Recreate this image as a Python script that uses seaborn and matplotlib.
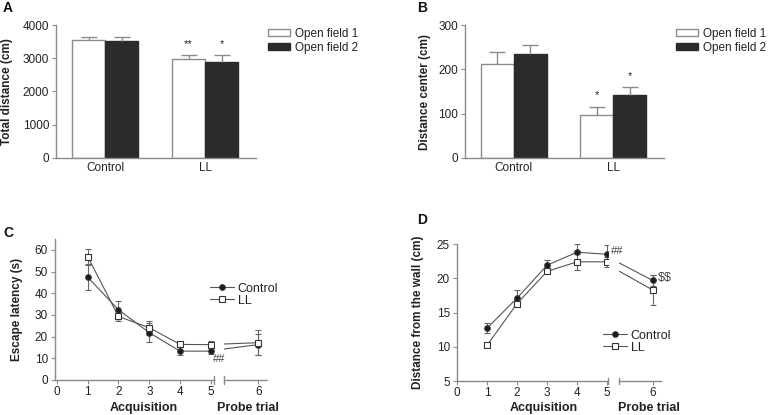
import numpy as np
import pandas as pd
import seaborn as sns
import matplotlib.pyplot as plt
from matplotlib.patches import Patch
from matplotlib.lines import Line2D

# --- data ---
groups = ['Control', 'LL']
sessions = ['Open field 1', 'Open field 2']

total_of1 = [3540, 2970]
total_of2 = [3525, 2890]
total_of1_sem = [90, 120]
total_of2_sem = [100, 200]
total_marks = [['', '**'], ['', '*']]   # [session][group]

center_of1 = [213, 98]
center_of2 = [235, 142]
center_of1_sem = [27, 18]
center_of2_sem = [20, 18]
center_marks = [['', '*'], ['', '*']]

days = [1, 2, 3, 4, 5, 6]
latency_control = [47.4, 32.4, 21.8, 13.3, 13.3, 16.3]
latency_control_sem = [5.7, 4.2, 4.3, 1.8, 1.3, 5.0]
latency_ll = [56.9, 29.3, 24.1, 16.4, 16.3, 17.2]
latency_ll_sem = [3.5, 2.3, 3.3, 1.1, 1.5, 5.8]

wall_control = [12.7, 17.1, 21.9, 23.8, 23.5, 19.7]
wall_control_sem = [0.7, 1.2, 0.7, 1.2, 1.3, 0.8]
wall_ll = [10.2, 16.3, 21.0, 22.4, 22.4, 18.3]
wall_ll_sem = [0.2, 0.3, 0.3, 1.2, 0.7, 2.2]

# --- style ---
sns.set_style('ticks')
plt.rcParams['font.family'] = ['Liberation Sans', 'DejaVu Sans']
SPINE = '#8a8a8a'
TXT = '#222222'
DARK = '#2b2b2b'
LINE = '#555555'
plt.rcParams.update({
    'axes.edgecolor': SPINE, 'axes.linewidth': 1.0,
    'xtick.color': SPINE, 'ytick.color': SPINE,
    'xtick.labelcolor': TXT, 'ytick.labelcolor': TXT,
    'xtick.labelsize': 8.5, 'ytick.labelsize': 8.5,
    'xtick.major.size': 3, 'ytick.major.size': 3,
    'xtick.major.pad': 1.5, 'ytick.major.pad': 2,
})

W, H = 769, 415
fig = plt.figure(figsize=(W / 100, H / 100), dpi=100)


def px_axes(left, top, right, bottom):
    return fig.add_axes([left / W, 1 - bottom / H, (right - left) / W, (bottom - top) / H])


def bar_panel(ax, of1, of2, sem1, sem2, marks, ylabel, yticks, label_x):
    df = pd.DataFrame({'group': groups * 2,
                       'session': [sessions[0]] * 2 + [sessions[1]] * 2,
                       'value': of1 + of2})
    sns.barplot(data=df, x='group', y='value', hue='session', order=groups,
                hue_order=sessions, palette=['white', DARK], saturation=1,
                width=0.66, errorbar=None, legend=False, ax=ax)
    for cont, sems, ec, mk in zip(ax.containers, [sem1, sem2], ['#8c8c8c', DARK], marks):
        xs = [p.get_x() + p.get_width() / 2 for p in cont]
        ys = [p.get_height() for p in cont]
        for p in cont:
            p.set_edgecolor(ec)
            p.set_linewidth(1)
        _, caps, _ = ax.errorbar(xs, ys, yerr=[np.zeros(len(sems)), sems], fmt='none',
                                 ecolor='#8c8c8c', elinewidth=1, capsize=6, capthick=1)
        for c in caps:
            if np.allclose(c.get_ydata(), ys):
                c.set_visible(False)
        for x, y, s, m in zip(xs, ys, sems, mk):
            if m:
                ax.annotate(m, (x, y + s), xytext=(0, 8), textcoords='offset points',
                            ha='center', va='center', fontsize=8, color=TXT)
    ax.set_xlim(-0.49, 1.51)
    ax.set_ylim(yticks[0], yticks[-1])
    ax.set_yticks(yticks)
    ax.set_xlabel('')
    ax.set_ylabel(ylabel, fontsize=8.5, fontweight='bold', color=TXT)
    ax.yaxis.set_label_coords(label_x, 0.5)
    ax.tick_params(axis='x', length=0, pad=3)
    sns.despine(ax=ax)
    handles = [Patch(facecolor='white', edgecolor='#8c8c8c', lw=1),
               Patch(facecolor=DARK, edgecolor=DARK, lw=1)]
    ax.legend(handles, sessions, loc='upper left', bbox_to_anchor=(1.06, 0.98),
              frameon=False, fontsize=8.5, borderaxespad=0, borderpad=0,
              handlelength=1.9, handleheight=0.55, handletextpad=0.4,
              labelspacing=0.2, labelcolor=TXT)


def line_panel(ax1, ax2, ctrl, ctrl_sem, ll, ll_sem, ylim, yticks, xlim1,
               ylabel, label_x, leg_anchor, acq_x, probe_x):
    df = pd.DataFrame({'day': days * 2, 'value': ctrl + ll, 'err': ctrl_sem + ll_sem,
                       'group': ['Control'] * len(days) + ['LL'] * len(days)})
    styles = {'Control': dict(marker='o', markersize=4, markerfacecolor='#1a1a1a'),
              'LL': dict(marker='s', markersize=5, markerfacecolor='white')}
    for ax, sel in ((ax1, df['day'] <= 5), (ax2, df['day'] >= 4)):
        for grp, st in styles.items():
            sub = df[sel & (df['group'] == grp)]
            ax.errorbar(sub['day'], sub['value'], yerr=sub['err'], fmt='none',
                        ecolor='#666666', elinewidth=0.8, capsize=2, capthick=0.8,
                        zorder=1)
            sns.lineplot(data=sub, x='day', y='value', ax=ax, color=LINE, lw=0.8,
                         markeredgecolor='#333333', markeredgewidth=0.8,
                         errorbar=None, zorder=3, **st)
    for ax in (ax1, ax2):
        ax.set_ylim(*ylim)
        ax.set_xlabel('')
        ax.set_ylabel('')
    ax2.patch.set_visible(False)
    ax1.set_xlim(*xlim1)
    ax1.set_xticks([0, 1, 2, 3, 4, 5])
    ax1.set_yticks(yticks)
    ax2.set_xlim(5.33, 6.17)
    ax2.set_xticks([6])
    ax2.set_yticks([])
    sns.despine(ax=ax1)
    sns.despine(ax=ax2, left=True)
    for ax, xb in ((ax1, 1), (ax2, 0)):
        ax.plot([xb, xb], [-0.025, 0.025], transform=ax.transAxes, color=SPINE,
                lw=1, clip_on=False)
    ax1.set_ylabel(ylabel, fontsize=8.5, fontweight='bold', color=TXT)
    ax1.yaxis.set_label_coords(label_x, 0.5)
    handles = [Line2D([], [], color=LINE, lw=0.8, markeredgecolor='#333333',
                      markeredgewidth=0.8, **styles[g]) for g in styles]
    leg = ax1.legend(handles, list(styles), loc='upper left', bbox_to_anchor=leg_anchor,
                     frameon=False, fontsize=9, borderaxespad=0, borderpad=0,
                     handlelength=1.9, handletextpad=0.3, labelspacing=0.0,
                     labelcolor=TXT)
    leg.set_zorder(10)
    ax1.text(acq_x, -0.2, 'Acquisition', transform=ax1.transAxes, ha='center',
             va='center', fontsize=9, fontweight='bold', color=TXT)
    ax2.text(probe_x, -0.2, 'Probe trial', transform=ax2.transAxes, ha='center',
             va='center', fontsize=9, fontweight='bold', color=TXT, clip_on=False)


# A
axA = px_axes(56, 25, 256, 158)
bar_panel(axA, total_of1, total_of2, total_of1_sem, total_of2_sem, total_marks,
          'Total distance (cm)', [0, 1000, 2000, 3000, 4000], -0.215)
# B
axB = px_axes(465, 25, 664, 158)
bar_panel(axB, center_of1, center_of2, center_of1_sem, center_of2_sem, center_marks,
          'Distance center (cm)', [0, 100, 200, 300], -0.17)

# C
axC1 = px_axes(55, 239, 214, 380)
axC2 = px_axes(224, 239, 267, 380)
line_panel(axC1, axC2, latency_control, latency_control_sem, latency_ll, latency_ll_sem,
           (0, 65), [0, 10, 20, 30, 40, 50, 60], (-0.06, 5.1),
           'Escape latency (s)', -0.2, (0.975, 0.69), 0.56, 0.56)
axC1.text(5.28, 9.7, '##', ha='center', va='center', fontsize=8, color='#444444',
          clip_on=False)

# D
axD1 = px_axes(457, 244, 608, 381)
axD2 = px_axes(619, 244, 661, 381)
line_panel(axD1, axD2, wall_control, wall_control_sem, wall_ll, wall_ll_sem,
           (5, 25), [5, 10, 15, 20, 25], (0, 5.03),
           'Distance from the wall (cm)', -0.22, (0.967, 0.375), 0.576, 0.71)
axD1.text(5.35, 24.0, '##', ha='center', va='center', fontsize=8, color='#444444',
          clip_on=False)
axD2.text(6.25, 20.0, r'\$\$', ha='center', va='center', fontsize=9, color='#444444',
          clip_on=False)

# panel letters
for lab, x, y in [('A', 8, 8), ('B', 422, 8), ('C', 8, 233), ('D', 422, 220)]:
    fig.text(x / W, 1 - y / H, lab, fontsize=10, fontweight='bold', color='#111111',
             ha='center', va='center')

fig.savefig('out.png', dpi=100)
